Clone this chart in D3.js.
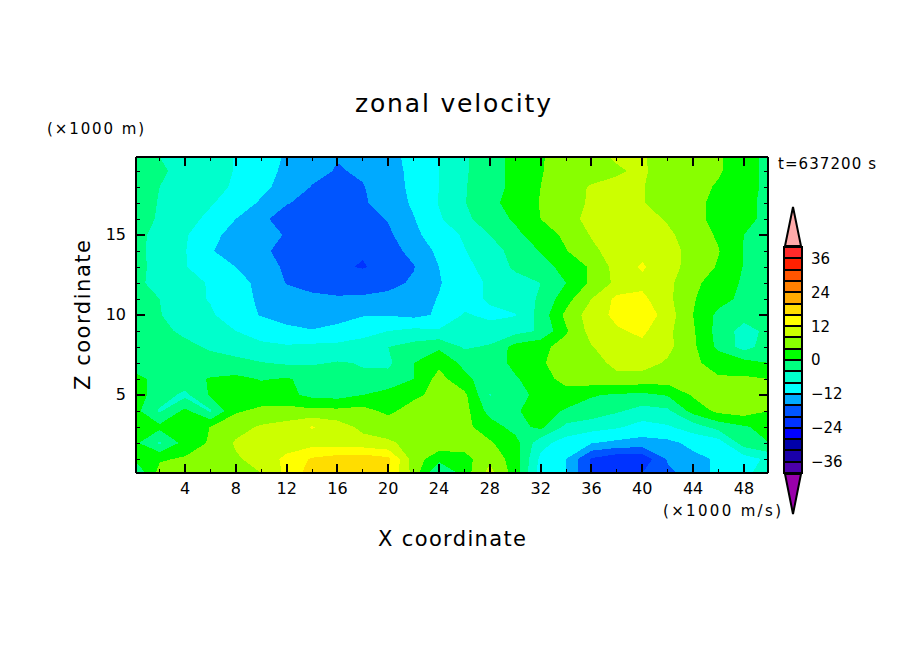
<!DOCTYPE html>
<html>
<head>
<meta charset="utf-8">
<script src="https://cdn.jsdelivr.net/npm/d3@7"></script>
<style>
html,body{margin:0;padding:0;background:#fff;}
svg{display:block;}
text{font-family:"DejaVu Sans",sans-serif;fill:#000;}
</style>
</head>
<body>
<svg id="chart" width="904" height="654"></svg>
<script>
// grid columns and rows of the field
const xCoords = [0,2,4,6,8,10,12,14,16,18,20,22,24,26,28,30,32,34,36,38,40,42,44,46,48,50];
const zCoords = [0.125,1,2,3,4,5,6,7,8,9,10,11,12,13,14,15,16,17,18,19,19.875];

// zonal velocity along each row, bottom to top
const u00 = [-4.5,5.5,7,8.2,6,8,13,18,19,19.5,16,6.5,-5,2,9.5,2,-10,-12,-20.5,-23.8,-20,-17,-14,-11,-9,-6];
const u01 = [0.5,3.5,4.5,6,7.5,9.5,13,16.5,18,18.5,17,6,1.5,2.5,7,2,-9,-12,-20.5,-23,-23,-15.5,-13,-11.5,-10,-7];
const u02 = [1,-4.5,1.5,4.5,8.5,9.5,10,10.5,10,9.5,8.5,7,6.5,6,4.5,1.5,-6.5,-10,-11.8,-13,-13.5,-13,-11,-10,-2,0];
const u03 = [1,1,1.5,4.1,6.5,8.5,9.5,12.3,10,7,6.5,6.5,7,5,2,-1.5,1,-5,-6.5,-7.5,-9.5,-8.5,-6,-2.5,-0.5,1.5];
const u04 = [1.5,-4.5,1,-4.5,3.5,5,5.5,5,5,5.5,3,6,6.5,5.5,-1.5,-0.5,2,-0.5,-1.5,-3.5,-5.5,-4.8,1.5,5,6,4];
const u05 = [2,-2,-5,0.5,1.5,1.5,1,-1,-1.5,0,1.5,3,5.5,5,-4.2,-1.5,1.2,2.5,0.3,-0.5,-1,0.3,4.5,6,7.6,4.5];
const u06 = [1,-1,-1.5,0.3,1,-0.2,0.3,-1,-2.5,-3.5,-2.5,0,5.5,1,-2,-0.5,2.5,5.2,6.5,7,6.5,6,5.5,4.3,4.6,4];
const u07 = [-1.5,-2,-2,-2.5,-3,-3.8,-4.5,-4.5,-3.7,-4.2,-4.8,0,3,-1,-2.5,1.2,3.5,6,6.5,9,9.5,7.5,4.5,3,1.5,0];
const u08 = [-1.5,-2,-3,-4.5,-5.5,-7,-7.5,-7,-6.8,-5.5,-4,-2.5,-0.7,-4.5,-3.5,1.5,3,5.5,7.8,10,11,9,4.8,-1,-5.5,-2];
const u09 = [-2,-3,-4.8,-6.5,-8,-9.8,-11,-11.8,-11.2,-10,-8,-7,-7.5,-6.8,-6.5,-5.5,-3.5,3.5,9.5,11.5,12.8,9,4.5,-1.5,-5.5,-3];
const u10 = [-2,-3.8,-6,-7.4,-10.5,-12.2,-13.5,-13.8,-13,-12.2,-12.2,-13,-11.5,-7.6,-8.8,-8.2,-2.5,5,10,13,15,10,4,-1,-2.5,-3];
const u11 = [-2,-4,-6.5,-8.3,-10.6,-12.6,-14,-15.2,-15.6,-15.5,-15,-13.5,-11.8,-9.5,-7.5,-6,-3.5,2.5,8,13,13,9,4.3,1.5,-1,-2.5];
const u12 = [-3,-5.3,-6.8,-8.3,-10.6,-13,-16.2,-17.2,-17.5,-17.5,-17,-15.5,-12.3,-9.5,-7.5,-5.5,-4,0,4.8,9,11,9,5,2,-0.5,-2];
const u13 = [-3,-5,-7.8,-10,-12,-14.6,-16.5,-18.5,-19.4,-20.3,-18.5,-16.2,-12,-9,-6.6,-3.3,-1.2,1,4.6,9.5,12.5,9.5,6.5,3.6,-0.2,-2];
const u14 = [-3,-5.2,-7.8,-11.7,-13.8,-15.4,-17,-18.8,-19.5,-19.6,-17.3,-15,-11,-8.2,-5.5,-2.8,0.2,3.8,7,10,11,9.2,7,4.2,-0.2,-2];
const u15 = [-3,-5,-7.6,-10.8,-13.5,-14.5,-16.3,-18.5,-19,-18.8,-16.8,-12.9,-10,-7.5,-4,-0.9,2,4.8,8.3,9.5,10.5,8.8,6,3.5,0,-2];
const u16 = [-1.5,-4.6,-6.5,-9,-12,-15.3,-17.5,-17.8,-18.3,-18,-15.7,-12.2,-8.5,-5,-1.8,0.5,4,6.8,9,10,9.5,7.6,5,3,1,-1];
const u17 = [-1.5,-4.3,-5.5,-7.6,-10,-12.5,-15.8,-17,-18,-16.5,-14.3,-11.4,-7.8,-4.2,-1.2,1.8,4.2,6.5,8.5,9.5,8.2,6.5,5,3,1,-1];
const u18 = [-1.5,-4,-5,-6.8,-8.5,-11,-13.5,-16.2,-17.5,-16.2,-14,-11,-8,-4.3,-1.5,1,4,6.7,8.3,8.4,8.1,7,5.5,3.5,1.5,-1];
const u19 = [-1.5,-3.5,-5,-6.5,-8.2,-10.5,-12.8,-14.8,-16.3,-15.5,-13.5,-11,-8,-4.5,-1.5,1,3.8,5.5,6.5,7.8,8.3,7,6,4.5,1.5,-1];
const u20 = [-2,-4,-5,-6.5,-8.2,-10,-12.5,-15,-15.8,-15,-13,-11,-8,-4.5,-1.5,1,3.8,5,7.5,8.2,8.2,7,6,4.5,1.5,-1];
const uRows = [u00,u01,u02,u03,u04,u05,u06,u07,u08,u09,u10,u11,u12,u13,u14,u15,u16,u17,u18,u19,u20];

// shading levels and colours, one colour per band starting at each level
const levels = d3.range(-40,40,4);
const bandColors = ["#4c00aa","#1a00aa","#0000aa","#0000ff","#0033ff","#0055ff","#00aaff","#00ffff","#00ffcc","#00ff80",
                    "#00ff00","#88ff00","#ccff00","#ffff00","#ffdd00","#ffaa00","#ff8000","#ff5500","#ff2000","#ff2a2a"];
const underColor = "#9900aa";
const overColor = "#ffaaaa";

const xMajor = d3.range(4,49,4);
const xMinor = d3.range(2,50,4);
const zMajor = [5,10,15];
const zMinor = d3.range(1,20).filter(d => d%5 !== 0);
const barLabels = [-36,-24,-12,0,12,24,36];

const svg = d3.select("#chart");
const x = d3.scaleLinear().domain([0.14,49.9]).range([136,768]);
const z = d3.scaleLinear().domain([0.125,19.875]).range([473,157]);

// grid index -> data coordinate
const colToX = d3.scaleLinear().domain(d3.range(xCoords.length)).range(xCoords).clamp(true);
const rowToZ = d3.scaleLinear().domain(d3.range(zCoords.length)).range(zCoords).clamp(true);

svg.append("clipPath").attr("id","plot-clip").append("rect")
    .attr("x",136).attr("y",157).attr("width",632).attr("height",316);

const grid = uRows.flat();
const contours = d3.contours()
    .size([xCoords.length,zCoords.length])
    .thresholds(levels)(grid);

const path = d3.geoPath(d3.geoTransform({
    point(a,b){ this.stream.point(x(colToX(a-0.5)), z(rowToZ(b-0.5))); }
}));

svg.append("g").attr("clip-path","url(#plot-clip)")
    .selectAll("path").data(contours).join("path")
    .attr("d",path)
    .attr("fill",(d,i) => bandColors[i])
    .attr("fill-rule","evenodd")
    .attr("shape-rendering","crispEdges");

// frame and ticks on all four sides
function ticks(axisFn,scale,major,minor,showLabels,pad){
    const g = svg.append("g");
    const a = g.append("g").call(axisFn(scale).offset(0).tickValues(major).tickSizeInner(-9).tickSizeOuter(0).tickPadding(pad)
        .tickFormat(showLabels ? d3.format("d") : ""));
    const b = g.append("g").call(axisFn(scale).offset(0).tickValues(minor).tickSizeInner(-4).tickSizeOuter(0).tickFormat(""));
    a.selectAll("line").attr("stroke","#000").attr("stroke-width",2).attr("shape-rendering","crispEdges");
    b.selectAll("line").attr("stroke","#000").attr("stroke-width",1).attr("shape-rendering","crispEdges");
    g.selectAll(".domain").attr("stroke","#000").attr("stroke-width",2).attr("shape-rendering","crispEdges");
    g.selectAll("text").attr("font-size",16).attr("font-family","DejaVu Sans");
    return g;
}
ticks(d3.axisBottom,x,xMajor,xMinor,true,10).attr("transform","translate(0,473)");
ticks(d3.axisTop,x,xMajor,xMinor,false,0).attr("transform","translate(0,157)");
ticks(d3.axisLeft,z,zMajor,zMinor,true,10).attr("transform","translate(136,0)");
ticks(d3.axisRight,z,zMajor,zMinor,false,0).attr("transform","translate(768,0)");

// colour bar
const barX0 = 784, barX1 = 802, barMid = 793;
const bar = d3.scaleLinear().domain([-40,40]).range([473,247]);
const barG = svg.append("g");
barG.selectAll("rect").data(levels).join("rect")
    .attr("x",barX0).attr("width",barX1-barX0)
    .attr("y",d => bar(d+4)).attr("height",d => bar(d)-bar(d+4))
    .attr("fill",(d,i) => bandColors[i])
    .attr("stroke","#000").attr("stroke-width",2).attr("shape-rendering","crispEdges");
barG.append("path")
    .attr("d",d3.line()([[barX0+1,bar(40)-1],[barMid,207],[barX1-1,bar(40)-1]])+"Z")
    .attr("fill",overColor).attr("stroke","#000").attr("stroke-width",2);
barG.append("path")
    .attr("d",d3.line()([[barX0+1,bar(-40)+1],[barMid,514],[barX1-1,bar(-40)+1]])+"Z")
    .attr("fill",underColor).attr("stroke","#000").attr("stroke-width",2);
barG.selectAll("text").data(barLabels).join("text")
    .attr("x",811).attr("y",d => bar(d)).attr("dy","0.36em")
    .attr("font-size",15)
    .text(d => d3.format("d")(d).replace("-","\u2212"));

// titles
function label(txt,px,py,size,len,rot){
    const t = svg.append("text").attr("font-size",size).text(txt)
        .attr("textLength",len).attr("lengthAdjust","spacing");
    if(rot) t.attr("transform",`translate(${px},${py}) rotate(-90)`);
    else t.attr("x",px).attr("y",py);
}
label("zonal velocity",355,112,25,196);
label("X coordinate",378,546,21,148);
label("Z coordinate",90,390,21,150,true);
label("(\u00d71000 m)",47,134,15,97);
label("(\u00d71000 m/s)",663,516,15,118);
label("t=637200 s",778,169,15,98);
</script>
</body>
</html>
